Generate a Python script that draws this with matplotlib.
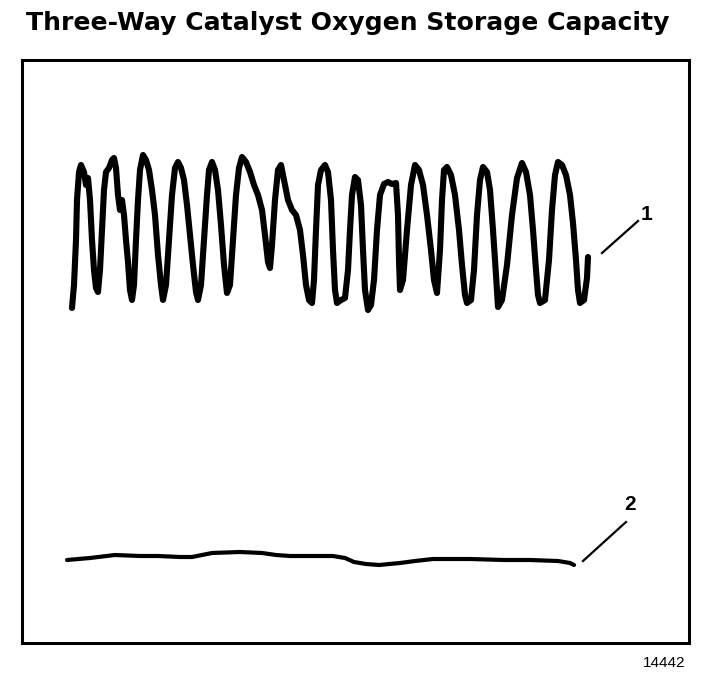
import matplotlib
matplotlib.use('Agg')
import matplotlib.pyplot as plt

# trace 1: good catalyst upstream-like switching signal (sample, level)
t1 = [72, 74, 76, 77, 79, 81, 84, 86, 88, 90, 92, 94, 96, 98, 100, 102, 104, 106, 109, 112,
      114, 116, 118, 120, 122, 124, 126, 128, 130, 132, 134, 136, 138, 140, 143, 146, 149, 152, 155, 158,
      161, 163, 166, 169, 172, 175, 178, 181, 184, 187, 190, 193, 196, 198, 201, 204, 207, 209, 212, 215,
      218, 221, 224, 227, 230, 233, 236, 239, 242, 246, 250, 254, 258, 262, 265, 268, 270, 272, 275, 278,
      281, 284, 288, 292, 296, 300, 303, 306, 309, 312, 314, 316, 318, 321, 325, 328, 331, 333, 335, 337,
      341, 345, 348, 350, 352, 355, 358, 361, 363, 365, 368, 371, 374, 377, 380, 384, 388, 392, 396, 398,
      399, 400, 403, 407, 411, 415, 419, 423, 427, 431, 434, 437, 440, 442, 444, 447, 451, 455, 459, 462,
      465, 467, 471, 474, 477, 480, 483, 487, 490, 493, 496, 498, 502, 507, 512, 517, 522, 526, 530, 533,
      536, 538, 540, 545, 549, 552, 555, 558, 562, 566, 570, 573, 576, 578, 580, 584, 587, 588]
v1 = [335, 358, 403, 443, 471, 478, 471, 458, 465, 443, 403, 373, 355, 351, 373, 413, 453, 471, 475, 483,
      485, 475, 448, 433, 443, 428, 403, 381, 353, 343, 358, 403, 443, 473, 488, 483, 473, 453, 428, 388,
      358, 343, 358, 403, 448, 475, 481, 475, 463, 438, 408, 378, 351, 343, 358, 403, 448, 473, 481, 473,
      453, 418, 378, 350, 358, 403, 448, 475, 486, 481, 471, 458, 448, 433, 408, 381, 375, 398, 443, 473,
      478, 463, 443, 433, 428, 413, 388, 358, 343, 340, 363, 413, 458, 473, 478, 471, 443, 393, 353, 340,
      343, 345, 373, 413, 448, 466, 463, 438, 393, 353, 333, 338, 363, 413, 448, 459, 461, 459, 460, 428,
      383, 353, 363, 413, 458, 478, 473, 458, 428, 393, 363, 350, 393, 443, 473, 476, 468, 448, 413, 378,
      348, 340, 343, 373, 428, 463, 476, 471, 453, 413, 368, 336, 343, 378, 428, 465, 480, 471, 448, 413,
      373, 348, 340, 343, 383, 433, 468, 481, 478, 468, 448, 420, 383, 353, 340, 343, 365, 386]

# trace 2: downstream sensor, nearly flat
t2 = [67, 90, 115, 140, 158, 180, 192, 202, 212, 240, 262, 276, 290, 310, 333, 345, 354, 366, 379, 400,
      415, 433, 470, 504, 530, 558, 570, 574]
v2 = [83, 85, 88, 87, 87, 86, 86, 88, 90, 91, 90, 88, 87, 87, 87, 85, 81, 79, 78, 80,
      82, 84, 84, 83, 83, 82, 80, 78]

title = 'Three-Way Catalyst Oxygen Storage Capacity'
fig_id = '14442'

fig = plt.figure(figsize=(7.04, 6.80), dpi=100)
ax = fig.add_axes([22/704, 37/680, 667/704, 583/680])

ax.plot(t1, v1, color='black', lw=4.4, solid_joinstyle='round', solid_capstyle='round')
ax.plot(t2, v2, color='black', lw=3.0, solid_joinstyle='round', solid_capstyle='round')

# callouts
ax.plot([602, 638], [390, 422], color='black', lw=1.6)
ax.text(646, 428, '1', fontsize=15, fontweight='bold', ha='center', va='center',
        family=['Liberation Sans', 'DejaVu Sans'])
ax.plot([583, 626], [82, 121], color='black', lw=1.6)
ax.text(630, 139, '2', fontsize=15, fontweight='bold', ha='center', va='center',
        family=['Liberation Sans', 'DejaVu Sans'])

ax.set_xlim(22, 689)
ax.set_ylim(0, 583)
ax.set_xticks([])
ax.set_yticks([])
for s in ax.spines.values():
    s.set_linewidth(2.2)

fig.text(348/704, 1 - 30/680, title, fontsize=18.1, fontweight='bold', ha='center', va='baseline',
         family=['DejaVu Sans'])
fig.text(664/704, 1 - 667/680, fig_id, fontsize=11, ha='center', va='baseline',
         family=['Liberation Sans', 'DejaVu Sans'])

fig.savefig('out.png', dpi=100)
